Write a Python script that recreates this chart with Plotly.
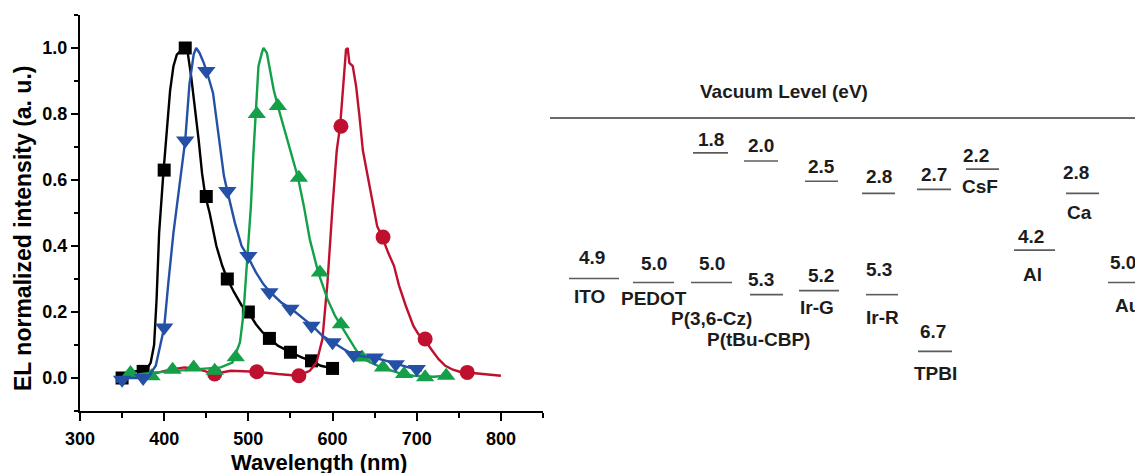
import plotly.graph_objects as go

# ---------------- Left panel: EL spectra ----------------
black_wl = [343, 350, 365, 379, 384, 388, 391, 394, 399, 403, 407, 411, 415, 423, 428, 432, 437, 441, 445, 449,
            454, 458, 462, 469, 475, 483, 492, 500, 509, 517, 525, 535, 550, 564, 575, 586, 600]
black_el = [0.010, 0.0, 0.020, 0.025, 0.047, 0.10, 0.24, 0.44, 0.62, 0.76, 0.87, 0.945, 0.98, 1.0, 0.985, 0.915,
            0.81, 0.72, 0.62, 0.55, 0.50, 0.45, 0.40, 0.34, 0.30, 0.26, 0.22, 0.20, 0.163, 0.138, 0.12, 0.098,
            0.078, 0.062, 0.052, 0.037, 0.029]
black_mk_wl = [350, 375, 400, 425, 450, 475, 500, 525, 550, 575, 600]
black_mk_el = [0.0, 0.02, 0.63, 1.0, 0.55, 0.30, 0.20, 0.12, 0.078, 0.052, 0.029]

blue_wl = [343, 350, 373, 382, 390, 396, 400, 405, 411, 418, 425, 430, 435, 438, 442, 447, 451, 458, 464, 471,
           475, 484, 492, 499, 509, 518, 526, 539, 551, 564, 576, 588, 600, 613, 627, 649, 664, 677, 690, 700, 706]
blue_el = [-0.013, 0.0, 0.0, 0.007, 0.037, 0.108, 0.153, 0.29, 0.44, 0.58, 0.72, 0.89, 0.98, 1.0, 0.985, 0.955,
           0.925, 0.864, 0.743, 0.612, 0.567, 0.47, 0.40, 0.37, 0.32, 0.284, 0.26, 0.229, 0.21, 0.183, 0.158,
           0.128, 0.108, 0.088, 0.068, 0.062, 0.052, 0.042, 0.032, 0.027, 0.022]
blue_mk_wl = [350, 375, 400, 425, 450, 475, 500, 525, 550, 575, 600, 625, 650, 675, 700]
blue_mk_el = [-0.005, 0.0, 0.153, 0.72, 0.93, 0.567, 0.37, 0.26, 0.21, 0.158, 0.108, 0.07, 0.062, 0.042, 0.027]

green_wl = [350, 373, 390, 416, 441, 467, 481, 490, 494, 498, 503, 506, 509, 512, 516, 518, 522, 526, 530, 535,
            543, 552, 559, 566, 573, 583, 594, 603, 609, 617, 626, 634, 645, 658, 670, 683, 696, 709, 721, 733, 738]
green_el = [0.002, 0.012, 0.017, 0.022, 0.027, 0.032, 0.047, 0.108, 0.19, 0.34, 0.52, 0.68, 0.80, 0.945, 0.985,
            1.0, 0.985, 0.934, 0.874, 0.824, 0.753, 0.672, 0.607, 0.52, 0.42, 0.32, 0.239, 0.188, 0.163, 0.128,
            0.093, 0.062, 0.047, 0.032, 0.022, 0.012, 0.007, 0.005, 0.004, 0.007, 0.005]
green_mk_wl = [360, 385, 410, 435, 460, 485, 510, 535, 560, 585, 610, 635, 660, 685, 710, 735]
green_mk_el = [0.015, 0.005, 0.025, 0.032, 0.022, 0.063, 0.80, 0.824, 0.607, 0.32, 0.163, 0.062, 0.032, 0.012,
               0.002, 0.007]

red_wl = [350, 373, 394, 407, 424, 441, 459, 479, 509, 535, 559, 573, 581, 588, 594, 600, 605, 609, 613, 616,
          618, 620, 624, 628, 632, 636, 641, 647, 653, 659, 666, 673, 679, 687, 696, 702, 709, 717, 726, 734,
          743, 751, 759, 772, 785, 800]
red_el = [-0.003, 0.007, 0.017, 0.025, 0.032, 0.027, 0.012, 0.022, 0.019, 0.012, 0.007, 0.022, 0.047, 0.118,
          0.29, 0.52, 0.69, 0.763, 0.894, 0.995, 1.0, 0.955, 0.945, 0.884, 0.793, 0.69, 0.622, 0.541, 0.46,
          0.427, 0.38, 0.34, 0.28, 0.219, 0.158, 0.133, 0.118, 0.088, 0.057, 0.037, 0.025, 0.019, 0.017, 0.012,
          0.009, 0.007]
red_mk_wl = [460, 510, 560, 610, 660, 710, 760]
red_mk_el = [0.012, 0.019, 0.007, 0.763, 0.427, 0.118, 0.017]

x_tick_vals = [300, 400, 500, 600, 700, 800]
y_tick_vals = [0.0, 0.2, 0.4, 0.6, 0.8, 1.0]

# ---------------- Right panel: energy levels (eV) ----------------
materials = ["ITO", "PEDOT", "P(3,6-Cz)", "P(tBu-CBP)", "Ir-G", "Ir-R", "TPBI", "CsF", "Al", "Ca", "Au"]
lower_ev = [4.9, 5.0, 5.0, 5.3, 5.2, 5.3, 6.7, 2.2, 4.2, 2.8, 5.0]      # HOMO / work function
upper_ev = [None, None, 1.8, 2.0, 2.5, 2.8, 2.7, None, None, None, None]  # LUMO

# layout (style) for the diagram columns
col_c_low = [594, 653.5, 711.5, 766.5, 819, 882, 935, 982.5, 1034.5, 1082.5, 1129]
col_w_low = [50, 41, 41, 33, 40, 32, 34, 33, 41, 33, 42]
col_c_up = [None, None, 710.5, 761, 821.5, 878.5, 934, None, None, None, None]
col_w_up = [None, None, 35, 34, 33, 33, 34, None, None, None, None]
val_dy_low = [21, 19, 19, 15, 15, 25, 20, 14, 14, 21, 20]
val_dx_low = [-2, 0, 0, -6, 2, -3, -2, -7, -4, -7, -6]
val_dy_up = [None, None, 13, 16, 15, 17, 15, None, None, None, None]
name_dy = [18, 16, 36, 45, 17, 23, 22, 17, 24, 19, 23]
name_dx = [-5, 0, 0, -8, -2, 0, 0, -3, -2, -3, -2]

W, H = 1135, 473
FONT = "Liberation Sans, Arial, sans-serif"
C_BLACK, C_BLUE, C_GREEN, C_RED = "#000000", "#2451a6", "#13a049", "#c0102f"

fig = go.Figure()

series = [
    (black_wl, black_el, black_mk_wl, black_mk_el, C_BLACK, "square", 13),
    (red_wl, red_el, red_mk_wl, red_mk_el, C_RED, "circle", 15),
    (green_wl, green_el, green_mk_wl, green_mk_el, C_GREEN, "triangle-up", 16),
    (blue_wl, blue_el, blue_mk_wl, blue_mk_el, C_BLUE, "triangle-down", 16),
]
for wl, el, mwl, mel, col, sym, sz in series:
    fig.add_trace(go.Scatter(x=wl, y=el, mode="lines", line=dict(color=col, width=2.4),
                             showlegend=False, hoverinfo="skip", xaxis="x", yaxis="y"))
    fig.add_trace(go.Scatter(x=mwl, y=mel, mode="markers",
                             marker=dict(symbol=sym, size=sz, color=col, line=dict(width=0)),
                             showlegend=False, hoverinfo="skip", xaxis="x", yaxis="y"))

# energy level segments
lx, ly = [], []
for i, e in enumerate(lower_ev):
    lx += [col_c_low[i] - col_w_low[i] / 2, col_c_low[i] + col_w_low[i] / 2, None]
    ly += [e, e, None]
for i, e in enumerate(upper_ev):
    if e is None:
        continue
    lx += [col_c_up[i] - col_w_up[i] / 2, col_c_up[i] + col_w_up[i] / 2, None]
    ly += [e, e, None]
fig.add_trace(go.Scatter(x=lx, y=ly, mode="lines", line=dict(color="#5c5c5c", width=1.6),
                         showlegend=False, hoverinfo="skip", xaxis="x2", yaxis="y2"))

annotations = []
tfont = dict(family=FONT, size=19, color="#1c1c1c", weight="bold")
for i, e in enumerate(lower_ev):
    annotations.append(dict(x=col_c_low[i], y=e, xref="x2", yref="y2", text=f"{e:.1f}", showarrow=False,
                            xanchor="center", yanchor="middle", yshift=val_dy_low[i], xshift=val_dx_low[i],
                            font=tfont))
    annotations.append(dict(x=col_c_low[i], y=e, xref="x2", yref="y2", text=materials[i], showarrow=False,
                            xanchor="center", yanchor="middle", yshift=-name_dy[i], xshift=name_dx[i],
                            font=tfont))
for i, e in enumerate(upper_ev):
    if e is None:
        continue
    annotations.append(dict(x=col_c_up[i], y=e, xref="x2", yref="y2", text=f"{e:.1f}", showarrow=False,
                            xanchor="center", yanchor="middle", yshift=val_dy_up[i], font=tfont))

annotations.append(dict(x=784, y=1 - 92 / H, xref="x2", yref="paper", text="Vacuum Level (eV)",
                        showarrow=False, xanchor="center", yanchor="middle", font=tfont))
# axis titles of the spectra panel
annotations.append(dict(x=319 / W, y=1 - 462 / H, xref="paper", yref="paper", text="Wavelength (nm)",
                        showarrow=False, xanchor="center", yanchor="middle",
                        font=dict(family=FONT, size=22, color="black", weight="bold")))
annotations.append(dict(x=23 / W, y=1 - 229 / H, xref="paper", yref="paper",
                        text="EL normalized intensity (a. u.)", textangle=-90,
                        showarrow=False, xanchor="center", yanchor="middle",
                        font=dict(family=FONT, size=23, color="black", weight="bold")))

tick_font = dict(family=FONT, size=18, color="black", weight="bold")
fig.update_layout(
    width=W, height=H, autosize=False,
    margin=dict(l=0, r=0, t=0, b=0, pad=0, autoexpand=False),
    paper_bgcolor="white", plot_bgcolor="rgba(0,0,0,0)",
    xaxis=dict(domain=[80 / W, 543 / W], range=[300, 850], tickvals=x_tick_vals,
               ticks="outside", ticklen=8, tickwidth=2, tickcolor="black",
               minor=dict(dtick=50, tick0=300, ticks="outside", ticklen=5, tickwidth=2, tickcolor="black"),
               showline=True, linewidth=2, linecolor="black", showgrid=False, zeroline=False,
               tickfont=tick_font, ticklabelstandoff=2, anchor="y", automargin=False),
    yaxis=dict(domain=[1 - 411 / H, 1 - 15 / H], range=[-0.1, 1.1], tickvals=y_tick_vals, tickformat=".1f",
               ticks="outside", ticklen=7, tickwidth=2, tickcolor="black",
               minor=dict(dtick=0.1, tick0=0, ticks="outside", ticklen=4, tickwidth=2, tickcolor="black"),
               showline=True, linewidth=2, linecolor="black", showgrid=False, zeroline=False,
               tickfont=tick_font, ticklabelstandoff=0, anchor="x", automargin=False),
    xaxis2=dict(domain=[550 / W, 1], range=[550, 1135], visible=False, anchor="y2", automargin=False),
    yaxis2=dict(domain=[0, 1], range=[(H - 80) / 40.5, -80 / 40.5], visible=False, anchor="x2",
                automargin=False),
    shapes=[dict(type="line", xref="x2", yref="paper", x0=550, x1=1135, y0=1 - 118 / H, y1=1 - 118 / H,
                 line=dict(color="#6a6a6a", width=2))],
    annotations=annotations,
)

fig.write_html("out.html", config={"displayModeBar": False},
               post_script="document.body.style.margin='0';document.body.style.overflow='hidden';")
